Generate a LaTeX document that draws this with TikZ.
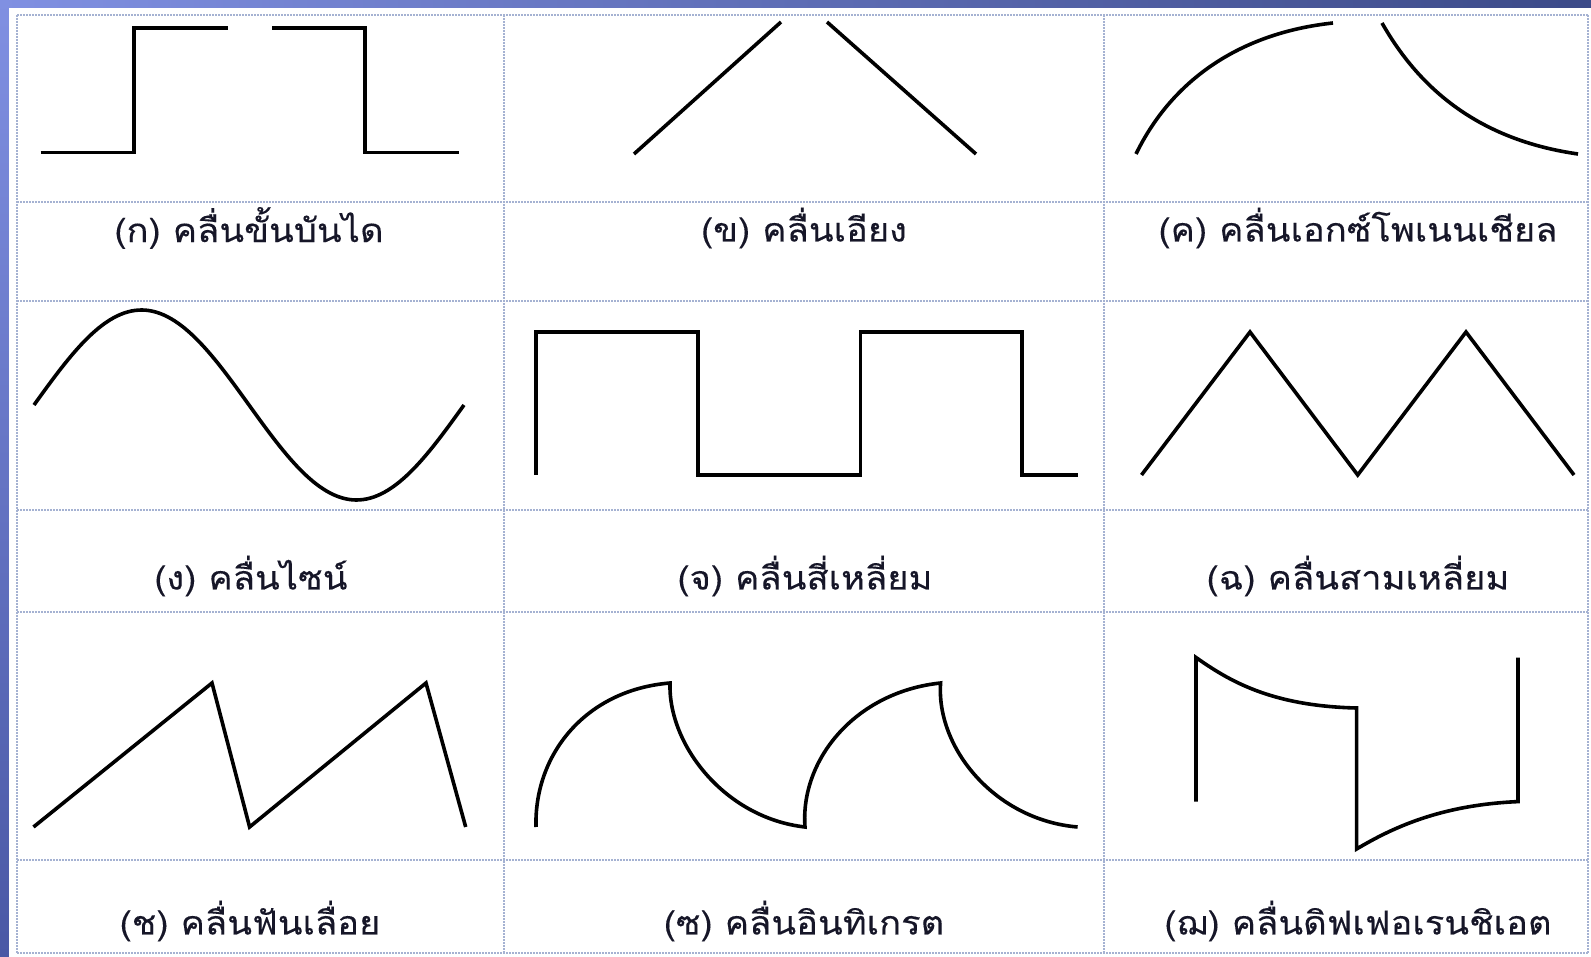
\documentclass[tikz,border=0pt]{standalone}
\usepackage{fontspec}
\newfontfamily\thaifont[Script=Thai, FakeStretch=1.1, FakeBold=0.2]{Loma}
\definecolor{bandlight}{RGB}{128,144,226}
\definecolor{banddark}{RGB}{60,74,136}
\definecolor{bandmid}{RGB}{74,88,165}
\definecolor{gridc}{RGB}{165,178,210}
\definecolor{textc}{RGB}{22,22,40}
\tikzset{
  wave/.style={line width=3.6pt, black, line join=miter, line cap=butt},
  gridline/.style={gridc, line width=1.6pt, dash pattern=on 1.6pt off 1.4pt},
  lbl/.style={font=\thaifont\fontsize{33}{38}\selectfont, text=textc, inner sep=0pt}
}
\begin{document}
\begin{tikzpicture}[x=1pt,y=-1pt]
\useasboundingbox (0,0) rectangle (1591,957);
% background frame
\shade[left color=bandlight, right color=banddark] (0,0) rectangle (1591,9);
\shade[top color=bandlight, bottom color=bandmid] (0,0) rectangle (9,957);
\fill[white] (9,8) rectangle (1591,957);
% grid
\foreach \yy in {15,202,301,510,612,860,953}
  \draw[gridline] (17,\yy) -- (1588,\yy);
\foreach \xx in {17,504,1104,1588}
  \draw[gridline] (\xx,15) -- (\xx,953);
% (a) step
\draw[wave] (40.6,152.5) -- (134,152.5) -- (134,28) -- (228,28);
\draw[wave] (272,28) -- (365,28) -- (365,152.5) -- (459,152.5);
% (b) ramp
\draw[wave] (634,154) -- (781,22);
\draw[wave] (827,22) -- (976,154);
% (c) exponential
\draw[wave] (1136,154) .. controls (1172,80) and (1240,33) .. (1333,23);
\draw[wave] (1382,23) .. controls (1420,90) and (1480,140) .. (1578,154);
% (d) sine
\draw[wave, smooth] plot[domain=34:464, samples=120] (\x, {405-95*sin((\x-34)/430*360)});
% (e) square
\draw[wave] (536,475) -- (536,332) -- (698,332) -- (698,475) -- (860.5,475) -- (860.5,332) -- (1022,332) -- (1022,475) -- (1077.6,475);
% (f) triangle
\draw[wave] (1141.5,475) -- (1250,332) -- (1357.7,475) -- (1466,332) -- (1574,475);
% (g) sawtooth
\draw[wave] (33.5,827) -- (212,683) -- (249.6,827) -- (426,683) -- (465.7,827);
% (h) integrated
\draw[wave] (536,827) .. controls (534,755) and (585,690) .. (670,683)
  .. controls (668,745) and (725,818) .. (805,827)
  .. controls (800,760) and (855,692) .. (940.6,683)
  .. controls (936,748) and (995,820) .. (1077.6,827);
% (i) differentiated
\draw[wave] (1196,801.6) -- (1196,657.5) .. controls (1228,680) and (1270,706) .. (1356.6,708)
  -- (1356.6,849) .. controls (1392,828) and (1440,805) .. (1518,801.6) -- (1518,657.5);
% labels
\node[lbl] (la) at (249,228) {(ก) คลื่นขั้นบันได};
\node[lbl] (lb) at (804,228) {(ข) คลื่นเอียง};
\node[lbl] (lc) at (1358,228) {(ค) คลื่นเอกซ์โพเนนเชียล};
\node[lbl] (ld) at (251,576) {(ง) คลื่นไซน์};
\node[lbl] (le) at (805,576) {(จ) คลื่นสี่เหลี่ยม};
\node[lbl] (lf) at (1358,576) {(ฉ) คลื่นสามเหลี่ยม};
\node[lbl] (lg) at (250,921) {(ช) คลื่นฟันเลื่อย};
\node[lbl] (lh) at (804,921) {(ซ) คลื่นอินทิเกรต};
\node[lbl] (li) at (1358,921) {(ฌ) คลื่นดิฟเฟอเรนชิเอต};
\end{tikzpicture}
\end{document}
